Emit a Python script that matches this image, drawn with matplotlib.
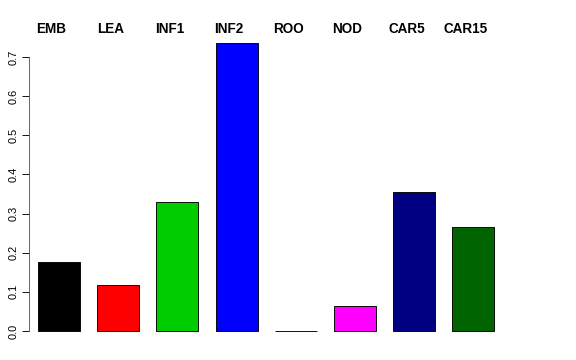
import matplotlib
matplotlib.use("Agg")
import matplotlib.pyplot as plt
import numpy as np

categories = ["EMB", "LEA", "INF1", "INF2", "ROO", "NOD", "CAR5", "CAR15"]
values = [0.176, 0.117, 0.330, 0.736, 0.001, 0.064, 0.354, 0.266]
colors = ["black", "red", "#00CD00", "blue", "#A52A2A", "magenta", "#000080", "#006400"]
yticks = [0.0, 0.1, 0.2, 0.3, 0.4, 0.5, 0.6, 0.7]

plt.rcParams['font.family'] = ['Liberation Sans', 'DejaVu Sans']

W, H = 576, 360
fig = plt.figure(figsize=(W / 72, H / 72), dpi=72)
left_px, right_px, top_px, bot_px = 29, 560, 31, 342
ax = fig.add_axes([left_px / W, (H - bot_px) / H, (right_px - left_px) / W, (bot_px - top_px) / H])

x = np.arange(len(categories))
ax.bar(x, values, width=0.71, color=colors, edgecolor="black", linewidth=0.9)

unit = 274 / 0.7
ax.set_ylim(-(bot_px - 331) / unit, (331 - top_px) / unit)
ax.set_xlim((left_px - 59) / 59.2, (right_px - 59) / 59.2)

for s in ["top", "right", "bottom"]:
    ax.spines[s].set_visible(False)
ax.spines["left"].set_bounds(0, 0.7)
ax.spines["left"].set_color("#444444")
ax.set_xticks([])
ax.set_yticks(yticks)
ax.set_yticklabels([f"{t:.1f}" for t in yticks], rotation=90, va="center", fontsize=11)
ax.tick_params(axis="y", length=7, width=0.9, pad=3, colors="black")

label_y = (bot_px - 33.5) / (bot_px - top_px)
for i, c in enumerate(categories):
    ax.text(i - 0.13, label_y, c, transform=ax.get_xaxis_transform(), ha="center",
            va="baseline", fontsize=13.5, fontweight="bold")

fig.savefig("out.png", dpi=72)
